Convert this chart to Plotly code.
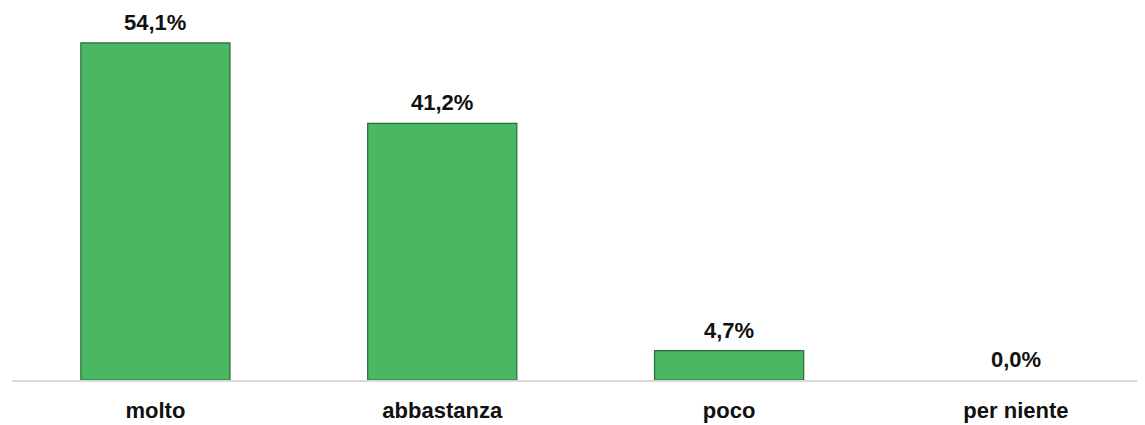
import plotly.graph_objects as go

categories = ["molto", "abbastanza", "poco", "per niente"]
values = [54.1, 41.2, 4.7, 0.0]
labels = ["54,1%", "41,2%", "4,7%", "0,0%"]

GREEN = "#4ab762"
DARK = "#2a6a38"
FONT = "Liberation Sans, Arial"

fig = go.Figure()
fig.add_trace(go.Bar(
    x=categories,
    y=values,
    width=0.52,
    marker=dict(color=GREEN,
                line=dict(color=DARK, width=[1.2 if v > 0 else 0 for v in values])),
    hoverinfo="skip",
))

for cat, val, lab in zip(categories, values, labels):
    fig.add_annotation(
        x=cat, y=val, text=f"<b>{lab}</b>", showarrow=False,
        yanchor="bottom", yshift=6,
        font=dict(family=FONT, size=22, color="#111111"),
    )

fig.update_xaxes(
    range=[-0.5, 3.45],
    showline=True, linecolor="#d9d9d9", linewidth=1.5,
    showgrid=False, ticks="", ticklabelstandoff=10,
    tickfont=dict(family=FONT, size=22, color="#111111", weight="bold"),
)
fig.update_yaxes(range=[0, 59.7], visible=False, showgrid=False)

# page body has an 8px margin, so the figure is a bit smaller than the window
fig.update_layout(
    width=1137, height=417,
    margin=dict(l=4, r=0, t=0, b=45),
    plot_bgcolor="white", paper_bgcolor="white",
    showlegend=False,
)

fig.write_html("out.html")
